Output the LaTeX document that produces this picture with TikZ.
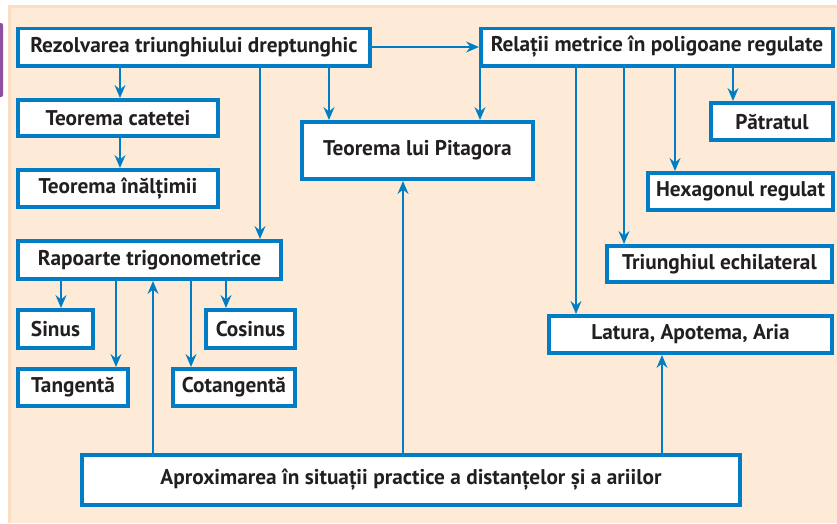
\documentclass[tikz,border=0pt]{standalone}
\usepackage{fontspec}
\setmainfont{PT Sans}
\usepackage{tikz}
\usetikzlibrary{arrows.meta}
\definecolor{sch-blue}{RGB}{0,125,197}
\definecolor{sch-peach}{RGB}{253,235,216}
\definecolor{sch-edge}{RGB}{250,222,196}
\definecolor{sch-purple}{RGB}{142,80,160}
\definecolor{sch-text}{RGB}{35,31,32}

\begin{document}
\begin{tikzpicture}[
    x=1pt, y=-1pt,
    box/.style={rectangle, draw=sch-blue, line width=3.8pt, fill=white,
                inner sep=0pt, align=center,
                font=\fontsize{21.3}{24}\selectfont\bfseries, text=sch-text},
    sz/.style 2 args={minimum width={#1pt-3.8pt}, minimum height={#2pt-3.8pt}},
    arr/.style={-{Stealth[length=13pt, width=11pt, inset=4.5pt]}, line width=1.7pt, draw=sch-blue}
  ]
    \useasboundingbox (0,0) rectangle (837,523);
    \fill[sch-peach] (8,5) rectangle (837,523);
    \draw[sch-edge, line width=2.5pt] (9.5,523) -- (9.5,6.5) -- (837,6.5);
    \fill[sch-purple, rounded corners=2pt] (-4,23) rectangle (3,97);

    \node[box, sz={356}{41}] (rez)  at (194,47)     {Rezolvarea triunghiului dreptunghic};
    \node[box, sz={204}{40}] (cat)  at (118,118)    {Teorema catetei};
    \node[box, sz={204}{41}] (inal) at (118,188.5)  {Teorema înălțimii};
    \node[box, sz={235}{61}] (pit)  at (417.5,150.5) {Teorema lui Pitagora};
    \node[box, sz={356}{41}] (rel)  at (657,47)     {Relații metrice în poligoane regulate};
    \node[box, sz={126}{41}] (patr) at (772,121.5)  {Pătratul};
    \node[box, sz={189}{41}] (hex)  at (740.5,191.5) {Hexagonul regulat};
    \node[box, sz={229}{40}] (tri)  at (719.5,264)  {Triunghiul echilateral};
    \node[box, sz={287}{41}] (lat)  at (690.5,334.5) {Latura, Apotema, Aria};
    \node[box, sz={267}{42}] (rap)  at (149.5,260)  {Rapoarte trigonometrice};
    \node[box, sz={79}{42}]  (sin)  at (55.5,329)   {Sinus};
    \node[box, sz={93}{42}]  (cos)  at (250.5,329)  {Cosinus};
    \node[box, sz={114}{41}] (tan)  at (73,387.5)   {Tangentă};
    \node[box, sz={126}{41}] (cot)  at (234,387.5)  {Cotangentă};
    \node[box, sz={662}{54}] (apr)  at (411,480)    {Aproximarea în situații practice a distanțelor și a ariilor};

    \draw[arr] (rez) -- (rel);
    \draw[arr] (rez.south -| 120,0) -- (cat.north -| 120,0);
    \draw[arr] (cat.south -| 120,0) -- (inal.north -| 120,0);
    \draw[arr] (rez.south -| 260,0) -- (rap.north -| 260,0);
    \draw[arr] (rez.south -| 329,0) -- (pit.north -| 329,0);

    \draw[arr] (rel.south -| 480,0) -- (pit.north -| 480,0);
    \draw[arr] (rel.south -| 576,0) -- (lat.north -| 576,0);
    \draw[arr] (rel.south -| 624,0) -- (tri.north -| 624,0);
    \draw[arr] (rel.south -| 675,0) -- (hex.north -| 675,0);
    \draw[arr] (rel.south -| 733,0) -- (patr.north -| 733,0);

    \draw[arr] (rap.south -| 61,0)  -- (sin.north -| 61,0);
    \draw[arr] (rap.south -| 116,0) -- (tan.north -| 116,0);
    \draw[arr] (rap.south -| 191,0) -- (cot.north -| 191,0);
    \draw[arr] (rap.south -| 226,0) -- (cos.north -| 226,0);

    \draw[arr] (apr.north -| 153,0) -- (rap.south -| 153,0);
    \draw[arr] (apr.north -| 403,0) -- (pit.south -| 403,0);
    \draw[arr] (apr.north -| 662,0) -- (lat.south -| 662,0);
  \end{tikzpicture}
\end{document}
